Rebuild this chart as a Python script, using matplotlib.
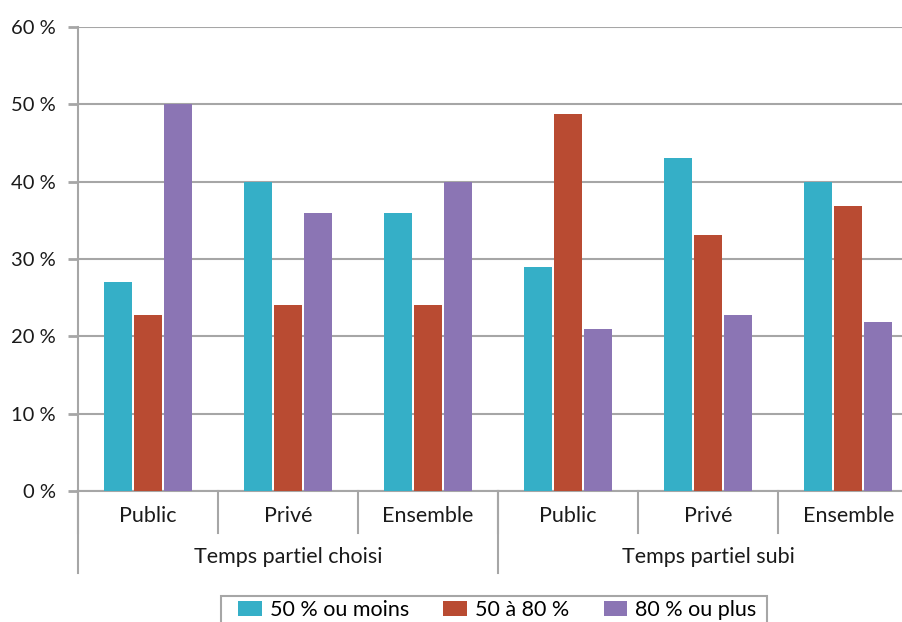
import numpy as np
import matplotlib
matplotlib.use("Agg")
import matplotlib.pyplot as plt
from matplotlib.patches import Rectangle
from matplotlib.transforms import blended_transform_factory

plt.rcParams["font.family"] = ["Lato", "DejaVu Sans"]

categories = ["Public", "Privé", "Ensemble", "Public", "Privé", "Ensemble"]
groups = ["Temps partiel choisi", "Temps partiel subi"]
series = ["50 % ou moins", "50 à 80 %", "80 % ou plus"]
moins_50 = [27, 40, 36, 29, 43, 40]
de_50_a_80 = [22.7, 24, 24, 48.8, 33.1, 36.8]
plus_80 = [50, 36, 40, 21, 22.7, 21.9]
yticks = [0, 10, 20, 30, 40, 50, 60]

colors = ["#35AFC7", "#B94B32", "#8B75B4"]
GRID = "#a6a6a6"
TXT = "#1a1a1a"

W, H = 903, 622
fig = plt.figure(figsize=(W / 100, H / 100), dpi=100)
ax = fig.add_axes([78 / W, 131 / H, 825 / W, 464 / H])

x = np.arange(len(categories))
w = 0.2
step = 0.214
for i, (vals, c, lab) in enumerate(zip([moins_50, de_50_a_80, plus_80], colors, series)):
    ax.bar(x + (i - 1) * step, vals, width=w, color=c, label=lab, zorder=3)

ax.set_ylim(0, 60)
ax.set_xlim(-0.5, 5.39)
ax.set_yticks(yticks)
ax.set_yticklabels([f"{v} %" for v in yticks])
ax.yaxis.grid(True, color=GRID, linewidth=1.5, zorder=0)
ax.tick_params(axis="y", length=7, width=2, color=GRID, pad=9, labelsize=14.5, labelcolor=TXT)
ax.set_xticks([])
for s in ["top", "right"]:
    ax.spines[s].set_visible(False)
for s in ["bottom", "left"]:
    ax.spines[s].set_color(GRID)
    ax.spines[s].set_linewidth(1.5)

# two-level category axis
trans = blended_transform_factory(ax.transData, ax.transAxes)
for k in range(len(categories)):
    ax.plot([k - 0.5, k - 0.5], [0, -0.0905], transform=trans, color=GRID,
            linewidth=1.5, clip_on=False)
    ax.text(k, -0.053, categories[k], transform=trans, ha="center", va="center",
            fontsize=15.5, color=TXT)
for g in range(len(groups)):
    ax.plot([g * 3 - 0.5, g * 3 - 0.5], [0, -0.177], transform=trans, color=GRID,
            linewidth=1.5, clip_on=False)
    ax.text(g * 3 + 1, -0.143, groups[g], transform=trans, ha="center", va="center",
            fontsize=15.5, color=TXT)

# legend, frame drawn separately (bottom edge cut by the figure border)
leg = fig.legend(loc="center left", bbox_to_anchor=(238 / W, 1 - 610 / H), ncol=3,
                 frameon=False, fontsize=15.5, handlelength=1.1, handleheight=0.7,
                 columnspacing=1.6, handletextpad=0.37, borderaxespad=0, borderpad=0)
fig.patches.append(Rectangle((221.5 / W, -0.05), (767 - 221.5) / W, 0.05 + 26 / H,
                             transform=fig.transFigure, fill=False, edgecolor=GRID,
                             linewidth=1.5))

fig.savefig("out.png", dpi=100)
